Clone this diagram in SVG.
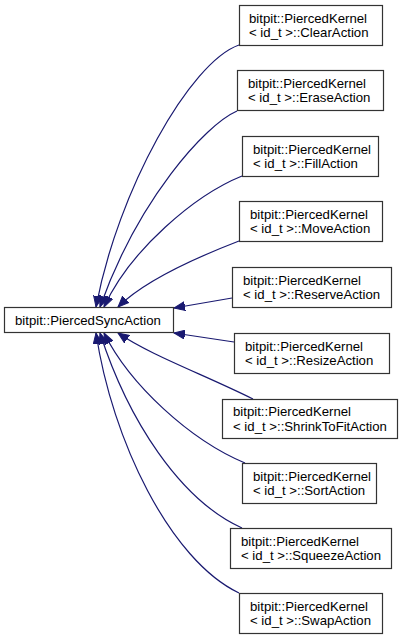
<svg xmlns="http://www.w3.org/2000/svg" width="405" height="640" viewBox="0 0 405 640">
<style>
.box{fill:#ffffff;stroke:#333333;stroke-width:1.2}
.lbl{font-family:"Liberation Sans",Arial,sans-serif;font-size:13.2px;fill:#000000}
.edge{fill:none;stroke:#191970;stroke-width:1.2}
</style>
<defs>
<marker id="ah" markerUnits="userSpaceOnUse" markerWidth="12" markerHeight="10" refX="11" refY="5" orient="auto">
<path d="M0,0.5 L11,5 L0,9.5 z" fill="#191970" stroke="#191970" stroke-width="1"/>
</marker>
</defs>
<rect width="405" height="640" fill="#ffffff"/>
<g id="connectors">
<path class="edge" marker-end="url(#ah)" d="M239,45 C190,62 118,190 96,307"/>
<path class="edge" marker-end="url(#ah)" d="M237,111 C205,125 138,200 100,307"/>
<path class="edge" marker-end="url(#ah)" d="M242,176 C195,195 130,250 104,307"/>
<path class="edge" marker-end="url(#ah)" d="M239,241 C195,258 145,280 118,307"/>
<path class="edge" marker-end="url(#ah)" d="M232,298 L174,308"/>
<path class="edge" marker-end="url(#ah)" d="M234,342 L174,333"/>
<path class="edge" marker-end="url(#ah)" d="M253,399 C205,375 150,355 118,333"/>
<path class="edge" marker-end="url(#ah)" d="M245,463 C190,440 130,385 104,333"/>
<path class="edge" marker-end="url(#ah)" d="M242,528 C180,500 128,420 100,333"/>
<path class="edge" marker-end="url(#ah)" d="M239,593 C170,560 112,440 96,333"/>
</g>
<g id="node-main">
<rect class="box" x="4.5" y="307.5" width="169" height="25"/>
<text class="lbl" x="15" y="324.5">bitpit::PiercedSyncAction</text>
</g>
<g id="node-clear">
<rect class="box" x="239.5" y="5.5" width="143" height="40"/>
<text class="lbl" x="249" y="22.5">bitpit::PiercedKernel</text>
<text class="lbl" x="249" y="37">&lt; id_t &gt;::ClearAction</text>
</g>
<g id="node-erase">
<rect class="box" x="237.5" y="70.5" width="146" height="40"/>
<text class="lbl" x="248" y="87.5">bitpit::PiercedKernel</text>
<text class="lbl" x="248" y="102">&lt; id_t &gt;::EraseAction</text>
</g>
<g id="node-fill">
<rect class="box" x="242.5" y="136.5" width="136" height="40"/>
<text class="lbl" x="253" y="153.5">bitpit::PiercedKernel</text>
<text class="lbl" x="253" y="168">&lt; id_t &gt;::FillAction</text>
</g>
<g id="node-move">
<rect class="box" x="239.5" y="201.5" width="143" height="40"/>
<text class="lbl" x="250" y="218.5">bitpit::PiercedKernel</text>
<text class="lbl" x="250" y="233">&lt; id_t &gt;::MoveAction</text>
</g>
<g id="node-reserve">
<rect class="box" x="232.5" y="267.5" width="159" height="40"/>
<text class="lbl" x="243" y="284.5">bitpit::PiercedKernel</text>
<text class="lbl" x="243" y="299">&lt; id_t &gt;::ReserveAction</text>
</g>
<g id="node-resize">
<rect class="box" x="234.5" y="333.5" width="155" height="40"/>
<text class="lbl" x="245" y="350.5">bitpit::PiercedKernel</text>
<text class="lbl" x="245" y="365">&lt; id_t &gt;::ResizeAction</text>
</g>
<g id="node-shrink">
<rect class="box" x="222.5" y="399.5" width="175" height="39"/>
<text class="lbl" x="233" y="416">bitpit::PiercedKernel</text>
<text class="lbl" x="233" y="430.5">&lt; id_t &gt;::ShrinkToFitAction</text>
</g>
<g id="node-sort">
<rect class="box" x="242.5" y="463.5" width="134" height="40"/>
<text class="lbl" x="253" y="480.5">bitpit::PiercedKernel</text>
<text class="lbl" x="253" y="495">&lt; id_t &gt;::SortAction</text>
</g>
<g id="node-squeeze">
<rect class="box" x="230.5" y="528.5" width="161" height="40"/>
<text class="lbl" x="241" y="545.5">bitpit::PiercedKernel</text>
<text class="lbl" x="241" y="560">&lt; id_t &gt;::SqueezeAction</text>
</g>
<g id="node-swap">
<rect class="box" x="239.5" y="593.5" width="143" height="40"/>
<text class="lbl" x="250" y="610.5">bitpit::PiercedKernel</text>
<text class="lbl" x="250" y="625">&lt; id_t &gt;::SwapAction</text>
</g>
</svg>
